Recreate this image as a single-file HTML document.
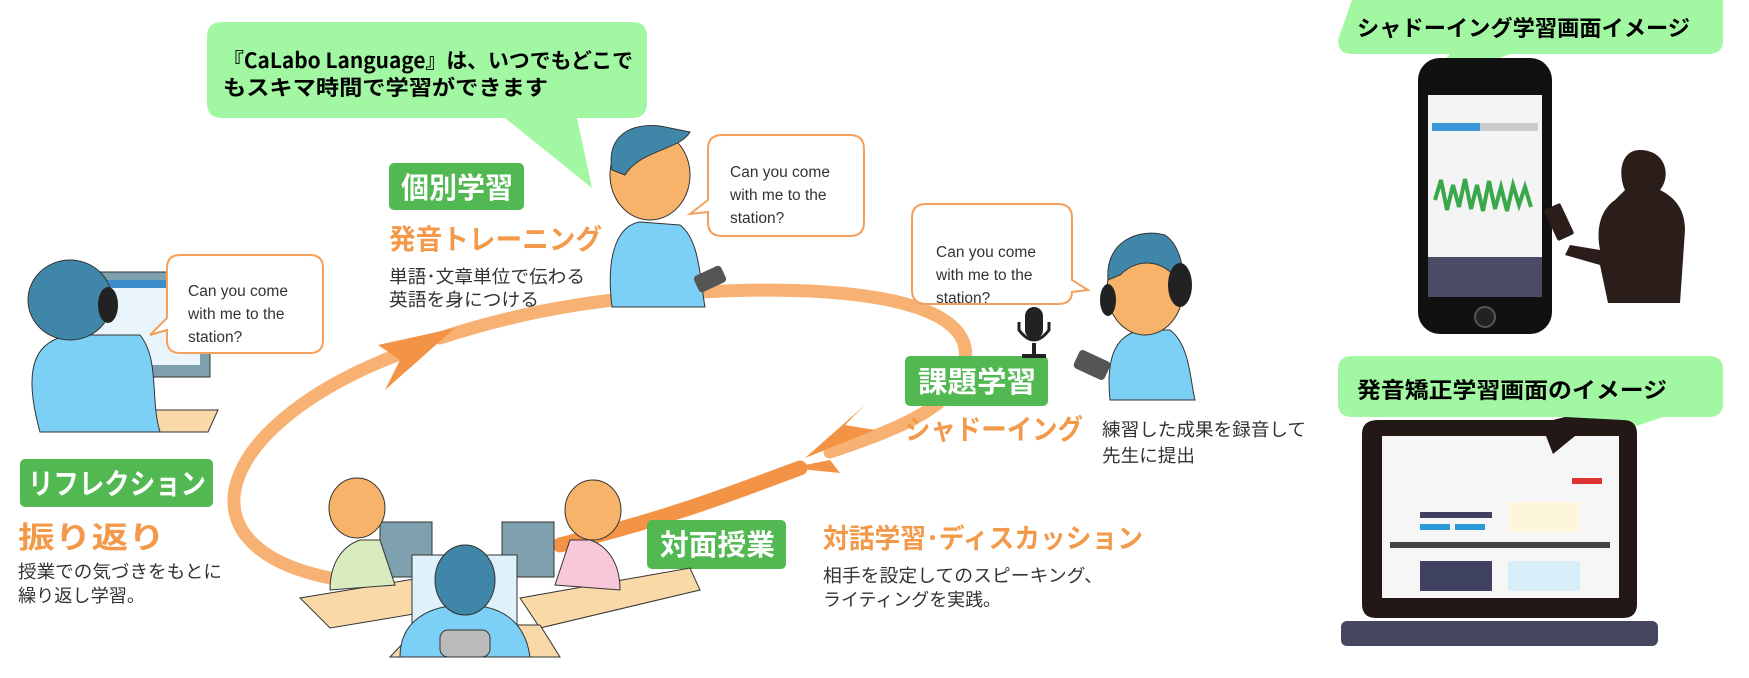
<!DOCTYPE html>
<html><head><meta charset="utf-8"><style>
html,body{margin:0;padding:0;background:#fff;}
svg{display:block;}
text{font-family:"Liberation Sans","Noto Sans CJK JP",sans-serif;}
.jp{font-family:"Noto Sans CJK JP","Liberation Sans",sans-serif;}
</style></head><body>
<svg width="1749" height="678" viewBox="0 0 1749 678" xmlns="http://www.w3.org/2000/svg">
<!-- loop curve -->
<g fill="none" stroke-linecap="round">
<path d="M330,578 C170,545 220,420 405,352" stroke="#f7b273" stroke-width="13"/>
<path d="M440,338 C540,305 620,298 700,292 C850,284 990,300 962,372 C948,410 895,430 830,452" stroke="#f7b273" stroke-width="13"/>
<path d="M800,468 C740,490 680,515 560,545" stroke="#f39345" stroke-width="15"/>
</g>
<polygon points="455,328 378,345 400,360 385,390" fill="#f39345"/>
<polygon points="805,458 875,430 845,425 865,405" fill="#f39345"/>
<polygon points="790,468 840,473 830,460" fill="#f39345"/>

<!-- top bubble -->
<path d="M222,22 H632 Q647,22 647,37 V103 Q647,118 632,118 H577 L592,188 L505,118 H222 Q207,118 207,103 V37 Q207,22 222,22 Z" fill="#a2f8a2"/>
<text x="223" y="68" font-size="21" font-weight="bold" class="jp" textLength="410" lengthAdjust="spacingAndGlyphs">『CaLabo Language』は、いつでもどこで</text>
<text x="223" y="95" font-size="21" font-weight="bold" class="jp" textLength="325" lengthAdjust="spacingAndGlyphs">もスキマ時間で学習ができます</text>

<!-- labels -->
<rect x="389" y="163" width="135" height="47" rx="5" fill="#52b852"/>
<text x="401" y="198" font-size="29" font-weight="bold" fill="#fff" class="jp" textLength="112" lengthAdjust="spacingAndGlyphs">個別学習</text>
<text x="389" y="249" font-size="28" font-weight="bold" fill="#f39a4a" class="jp" textLength="213" lengthAdjust="spacingAndGlyphs">発音トレーニング</text>
<text x="389" y="283" font-size="18" fill="#333" class="jp" textLength="196" lengthAdjust="spacingAndGlyphs">単語･文章単位で伝わる</text>
<text x="389" y="306" font-size="18" fill="#333" class="jp" textLength="150" lengthAdjust="spacingAndGlyphs">英語を身につける</text>

<rect x="20" y="459" width="193" height="48" rx="5" fill="#52b852"/>
<text x="28" y="494" font-size="29" font-weight="bold" fill="#fff" class="jp" textLength="178" lengthAdjust="spacingAndGlyphs">リフレクション</text>
<text x="18" y="548" font-size="30" font-weight="bold" fill="#f39a4a" class="jp" textLength="147" lengthAdjust="spacingAndGlyphs">振り返り</text>
<text x="18" y="578" font-size="18" fill="#333" class="jp" textLength="204" lengthAdjust="spacingAndGlyphs">授業での気づきをもとに</text>
<text x="18" y="602" font-size="18" fill="#333" class="jp" textLength="127" lengthAdjust="spacingAndGlyphs">繰り返し学習。</text>

<rect x="905" y="356" width="143" height="50" rx="5" fill="#52b852"/>
<text x="918" y="392" font-size="29" font-weight="bold" fill="#fff" class="jp" textLength="118" lengthAdjust="spacingAndGlyphs">課題学習</text>
<text x="905" y="439" font-size="28" font-weight="bold" fill="#f39a4a" class="jp" textLength="178" lengthAdjust="spacingAndGlyphs">シャドーイング</text>
<text x="1102" y="436" font-size="18" fill="#333" class="jp" textLength="204" lengthAdjust="spacingAndGlyphs">練習した成果を録音して</text>
<text x="1102" y="462" font-size="18" fill="#333" class="jp" textLength="93" lengthAdjust="spacingAndGlyphs">先生に提出</text>

<rect x="647" y="520" width="139" height="49" rx="5" fill="#52b852"/>
<text x="660" y="555" font-size="29" font-weight="bold" fill="#fff" class="jp" textLength="115" lengthAdjust="spacingAndGlyphs">対面授業</text>
<text x="823" y="548" font-size="27" font-weight="bold" fill="#f39a4a" class="jp" textLength="320" lengthAdjust="spacingAndGlyphs">対話学習･ディスカッション</text>
<text x="823" y="582" font-size="18" fill="#333" class="jp" textLength="280" lengthAdjust="spacingAndGlyphs">相手を設定してのスピーキング、</text>
<text x="823" y="606" font-size="18" fill="#333" class="jp" textLength="178" lengthAdjust="spacingAndGlyphs">ライティングを実践。</text>

<!-- left person with monitor -->
<rect x="80" y="272" width="130" height="105" fill="#7fa0ae" stroke="#333"/>
<rect x="90" y="280" width="110" height="85" fill="#e9f5fb"/>
<rect x="90" y="280" width="110" height="8" fill="#3b8cc9"/>
<rect x="113" y="377" width="35" height="30" fill="#8aa"/>
<polygon points="90,410 218,410 208,432 80,432" fill="#f9d9a8" stroke="#333"/>
<path d="M40,432 C20,360 40,340 70,335 L140,335 C160,360 150,400 160,432 Z" fill="#7dd0f5" stroke="#333"/>
<ellipse cx="70" cy="300" rx="42" ry="40" fill="#3f86a8" stroke="#333"/>
<ellipse cx="108" cy="305" rx="10" ry="18" fill="#222"/>

<!-- speech bubbles -->
<g fill="#fff" stroke="#f5a05a" stroke-width="2">
<path d="M180,255 H310 Q323,255 323,268 V340 Q323,353 310,353 H180 Q167,353 167,340 V330 L150,335 L167,318 V268 Q167,255 180,255 Z"/>
<path d="M722,135 H850 Q864,135 864,149 V222 Q864,236 850,236 H722 Q708,236 708,222 V212 L690,214 L708,200 V149 Q708,135 722,135 Z"/>
<path d="M926,204 H1058 Q1072,204 1072,218 V280 L1088,290 L1072,292 Q1072,304 1058,304 H926 Q912,304 912,290 V218 Q912,204 926,204 Z"/>
</g>
<g font-size="15.5" fill="#333">
<text x="188" y="296">Can you come</text><text x="188" y="319">with me to the</text><text x="188" y="342">station?</text>
<text x="730" y="177">Can you come</text><text x="730" y="200">with me to the</text><text x="730" y="223">station?</text>
<text x="936" y="257">Can you come</text><text x="936" y="280">with me to the</text><text x="936" y="303">station?</text>
</g>
<!-- mic -->
<rect x="1025" y="307" width="18" height="32" rx="9" fill="#222"/>
<path d="M1019,322 V330 Q1034,350 1049,330 V322" fill="none" stroke="#222" stroke-width="3"/>
<rect x="1032" y="343" width="4" height="12" fill="#222"/><rect x="1022" y="354" width="24" height="4" fill="#222"/>

<!-- center individual person -->
<path d="M612,307 C605,250 620,225 640,222 L680,225 C700,240 700,280 705,307 Z" fill="#7dd0f5" stroke="#333"/>
<ellipse cx="650" cy="175" rx="40" ry="45" fill="#f8b36a" stroke="#333"/>
<path d="M612,170 C605,130 640,120 670,128 L690,132 C680,150 640,150 625,175 Z" fill="#3f86a8" stroke="#333"/>
<rect x="695" y="270" width="30" height="18" rx="4" fill="#555" transform="rotate(-25 710 279)"/>

<!-- headphone person -->
<path d="M1110,400 C1105,350 1120,335 1140,330 L1170,330 C1190,345 1190,380 1195,400 Z" fill="#7dd0f5" stroke="#333"/>
<ellipse cx="1145" cy="290" rx="38" ry="45" fill="#f8b36a" stroke="#333"/>
<path d="M1108,280 C1105,240 1140,228 1165,235 C1180,245 1185,270 1183,290 C1170,260 1140,255 1120,275 Z" fill="#3f86a8" stroke="#333"/>
<ellipse cx="1180" cy="285" rx="12" ry="22" fill="#222"/><ellipse cx="1108" cy="300" rx="8" ry="16" fill="#222"/>
<rect x="1075" y="355" width="34" height="20" rx="4" fill="#555" transform="rotate(25 1092 365)"/>

<!-- group scene -->
<polygon points="300,598 480,568 510,598 330,628" fill="#f9d9a8" stroke="#333"/>
<polygon points="520,598 690,568 700,590 540,628" fill="#f9d9a8" stroke="#333"/>
<polygon points="390,657 420,625 540,625 560,657" fill="#f9d9a8" stroke="#333"/>
<rect x="380" y="522" width="52" height="55" fill="#7fa0ae" stroke="#333"/>
<rect x="502" y="522" width="52" height="55" fill="#7fa0ae" stroke="#333"/>
<path d="M330,590 C330,560 345,545 360,540 L380,540 L395,585 Z" fill="#d8ecc0" stroke="#333"/>
<ellipse cx="357" cy="508" rx="28" ry="30" fill="#f8b36a" stroke="#333"/>
<path d="M620,590 C620,560 605,545 590,540 L570,540 L555,585 Z" fill="#f8c8da" stroke="#333"/>
<ellipse cx="593" cy="510" rx="28" ry="30" fill="#f8b36a" stroke="#333"/>
<rect x="412" y="555" width="105" height="75" fill="#dff2fb" stroke="#333"/>
<path d="M400,657 C400,620 430,605 465,605 C500,605 525,620 530,657 Z" fill="#7dd0f5" stroke="#333"/>
<ellipse cx="465" cy="580" rx="30" ry="35" fill="#3f86a8" stroke="#333"/>
<rect x="440" y="630" width="50" height="27" rx="8" fill="#bbb" stroke="#333"/>

<!-- right bubbles -->
<path d="M1352,0 H1723 V40 Q1723,54 1709,54 H1510 L1420,88 L1450,54 H1352 Q1338,54 1338,40 Z" fill="#a2f8a2"/>
<text x="1357" y="36" font-size="22" font-weight="bold" class="jp" textLength="333" lengthAdjust="spacingAndGlyphs">シャドーイング学習画面イメージ</text>

<!-- phone -->
<rect x="1418" y="58" width="134" height="276" rx="22" fill="#111"/>
<rect x="1428" y="95" width="114" height="162" fill="#f4f4f4"/>
<rect x="1432" y="123" width="48" height="8" fill="#3a9ad9"/>
<rect x="1480" y="123" width="58" height="8" fill="#ccc"/>
<path d="M1435,200 l6,-20 l6,30 l6,-25 l6,22 l6,-28 l6,30 l6,-24 l6,26 l6,-30 l6,28 l6,-22 l6,24 l6,-26 l6,20 l6,-18 l6,20" fill="none" stroke="#3aa84a" stroke-width="4"/>
<rect x="1428" y="257" width="114" height="40" fill="#4a4c66"/>
<circle cx="1485" cy="317" r="10" fill="#222" stroke="#555" stroke-width="2"/>
<!-- silhouette -->
<path d="M1640,150 C1620,150 1618,175 1625,190 L1615,200 C1600,210 1596,230 1600,250 L1570,245 L1565,255 L1600,265 L1608,303 L1680,303 L1685,230 C1685,205 1670,195 1660,190 C1672,175 1665,150 1640,150 Z" fill="#2a1d1a"/>
<rect x="1550" y="205" width="18" height="34" rx="2" fill="#2a1d1a" transform="rotate(-25 1559 222)"/>

<path d="M1352,356 H1709 Q1723,356 1723,370 V403 Q1723,417 1709,417 H1663 L1553,454 L1565,417 H1352 Q1338,417 1338,403 V370 Q1338,356 1352,356 Z" fill="#a2f8a2"/>
<text x="1357" y="398" font-size="22" font-weight="bold" class="jp" textLength="310" lengthAdjust="spacingAndGlyphs">発音矯正学習画面のイメージ</text>

<!-- laptop -->
<path d="M1378,420 H1553 L1565,417 L1623,420 Q1637,420 1637,434 V604 Q1637,618 1623,618 H1376 Q1362,618 1362,604 V434 Q1362,420 1378,420 Z" fill="#231815"/>
<path d="M1382,436 H1546 L1553,454 L1575,436 H1619 V598 H1382 Z" fill="#f6f6f6"/>
<rect x="1390" y="542" width="220" height="6" fill="#444"/>
<rect x="1420" y="561" width="72" height="30" fill="#3f4160"/>
<rect x="1508" y="561" width="72" height="30" fill="#d8eef8"/>
<rect x="1508" y="502" width="72" height="30" fill="#fdf6dc"/>
<rect x="1420" y="512" width="72" height="6" fill="#3f4160"/>
<rect x="1420" y="524" width="30" height="6" fill="#2b9ad8"/><rect x="1455" y="524" width="30" height="6" fill="#2b9ad8"/>
<rect x="1572" y="478" width="30" height="6" fill="#d33"/>
<rect x="1341" y="621" width="317" height="25" rx="6" fill="#45475f"/>
</svg>
</body></html>
